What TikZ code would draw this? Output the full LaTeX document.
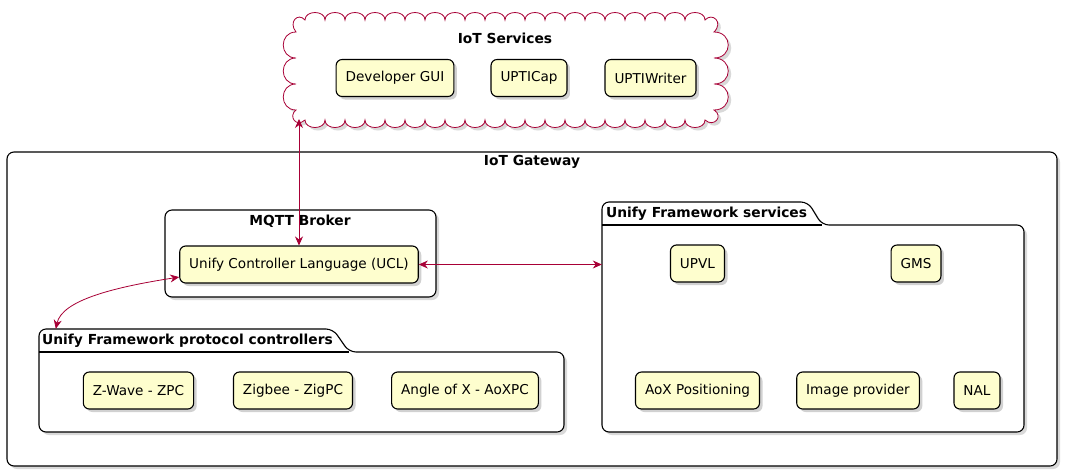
\documentclass[tikz,border=0pt]{standalone}
\usepackage{fontspec}
\setmainfont{DejaVu Sans}
\usetikzlibrary{arrows.meta,shadows,fit,calc}
\tikzset{
	comp/.style={draw=black, fill=compfill, line width=1.1pt, rounded corners=6pt, minimum height=37pt, inner xsep=9.5pt, font=\fontsize{13.6}{16}\selectfont, drop shadow={shadow xshift=3pt, shadow yshift=-3pt, fill=black!18, opacity=1}},
	frame/.style={draw=black, fill=white, line width=1.1pt, rounded corners=7pt, drop shadow={shadow xshift=3pt, shadow yshift=-3pt, fill=black!15, opacity=1}},
	cloudshape/.style={draw=linkred, fill=white, line width=0.8pt, drop shadow={shadow xshift=3pt, shadow yshift=-3pt, fill=black!15, opacity=1}},
	title/.style={font=\fontsize{13.8}{16}\selectfont\bfseries, inner sep=0pt},
	link/.style={draw=linkred, line width=0.8pt, {Stealth[length=9pt,width=8pt]}-{Stealth[length=9pt,width=8pt]}},
}
\begin{document}
\begin{tikzpicture}[x=1pt, y=-1pt]
		\definecolor{compfill}{HTML}{FEFECE}
		\definecolor{linkred}{HTML}{A80036}
		\useasboundingbox (0,0) rectangle (1067,475);
		\path[cloudshape] (305,20)
			\foreach \i in {0,...,19}{ .. controls (305+20*\i,10) and (325+20*\i,10) .. (325+20*\i,20) }
			.. controls (712,12) and (724,22) .. (714,32)
			\foreach \i in {0,1,2}{ .. controls (733,32+26*\i) and (733,58+26*\i) .. (714,58+26*\i) }
			.. controls (724,116) and (714,128) .. (705,120)
			\foreach \i in {0,...,19}{ .. controls (705-20*\i,130) and (685-20*\i,130) .. (685-20*\i,120) }
			.. controls (296,128) and (288,116) .. (296,110)
			\foreach \i in {0,1,2}{ .. controls (279,110-26*\i) and (279,84-26*\i) .. (296,84-26*\i) }
			.. controls (288,22) and (298,12) .. (305,20) -- cycle;
		\node[title] (servicestitle) at (505,38) {IoT Services};
		\node[comp] (devgui) at (395,78) {Developer GUI};
		\node[comp] (upticap) at (529,78) {UPTICap};
		\node[comp] (uptiwriter) at (650.5,78) {UPTIWriter};
		\coordinate (cloudfoot) at (299,119);

		\path[frame] (7,152) rectangle (1057,466);
		\node[title] (gatewaytitle) at (532,162) {IoT Gateway};

		\path[frame] (165,210) rectangle (436,297);
		\node[title] (mqtttitle) at (300,221) {MQTT Broker};
		\node[comp] (ucl) at (299,264.5) {Unify Controller Language (UCL)};

		\path[frame] (602,300) -- (602,202) -- (808,202) -- (822,225) -- (1024,225) -- (1024,432) -- (602,432) -- cycle;
		\draw[line width=1.1pt] (602,225) -- (822,225);
		\node[title, anchor=west] (servicesname) at (606,213.5) {Unify Framework services};
		\node[fit={(602,202) (1024,432)}, inner sep=0pt] (services) {};
		\node[comp] (upvl) at (697.5,263.5) {UPVL};
		\node[comp] (gms) at (916,263.5) {GMS};
		\node[comp] (aoxpos) at (697.5,390.5) {AoX Positioning};
		\node[comp] (imgprov) at (858,390.5) {Image provider};
		\node[comp] (nal) at (977,390.5) {NAL};

		\path[frame] (39,400) -- (39,329) -- (333,329) -- (349,352) -- (564,352) -- (564,432) -- (39,432) -- cycle;
		\draw[line width=1.1pt] (39,352) -- (349,352);
		\node[title, anchor=west] (ctrlname) at (42,340.5) {Unify Framework protocol controllers};
		\node[fit={(39,329) (564,432)}, inner sep=0pt] (ctrl) {};
		\node[comp] (zpc) at (138.5,390.5) {Z-Wave - ZPC};
		\node[comp] (zigpc) at (293,390.5) {Zigbee - ZigPC};
		\node[comp] (aoxpc) at (465,390.5) {Angle of X - AoXPC};

		\draw[link] (cloudfoot) -- (ucl.north);
		\draw[link] (ucl.east) -- (ucl.east -| services.west);
		\draw[link] (ucl.186) .. controls (115,287) and (62,300) .. ($(ctrl.north west)+(17,0)$);
	\end{tikzpicture}
\end{document}
